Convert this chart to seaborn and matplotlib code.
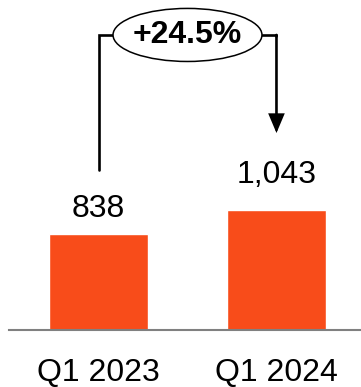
import matplotlib
matplotlib.use("Agg")
import matplotlib.pyplot as plt
import seaborn as sns
import pandas as pd
from matplotlib.patches import Ellipse

# Quarterly values
quarters = ["Q1 2023", "Q1 2024"]
values = [838, 1043]
value_labels = ["838", "1,043"]
growth_label = "+24.5%"

sns.set_theme(style="white")
plt.rcParams["font.family"] = ["Liberation Sans", "DejaVu Sans"]

fig = plt.figure(figsize=(3.61, 3.87), dpi=100)
ax = fig.add_axes([9 / 361, 57 / 387, 352 / 361, 330 / 387])

df = pd.DataFrame({"quarter": quarters, "value": values})
sns.barplot(data=df, x="quarter", y="value", color="#F84C1A",
            saturation=1, width=0.556, ax=ax)

ax.set_xlim(-0.503, 1.475)
ax.set_ylim(0, 2880)

for side in ("top", "left", "right"):
    ax.spines[side].set_visible(False)
ax.spines["bottom"].set_color("#808080")
ax.spines["bottom"].set_linewidth(1.5)
ax.set_yticks([])
ax.set_xlabel("")
ax.set_ylabel("")
ax.tick_params(axis="x", length=0, pad=20, labelsize=23, colors="black")

# value labels above each bar
label_offsets = [12.5, 20]
for i, (v, lab) in enumerate(zip(values, value_labels)):
    ax.annotate(lab, (i, v), xytext=(0, label_offsets[i]),
                textcoords="offset points", ha="center", va="baseline",
                fontsize=23, color="black")

# growth bracket with arrow
bracket_top = 2575
left_start = values[0] + 558
arrow_end = values[1] + 676
ell_w, ell_h = 0.837, 463

ax.plot([0, 0, 0.5 - ell_w / 2], [left_start, bracket_top, bracket_top],
        color="black", lw=1.9, solid_joinstyle="miter", clip_on=False)
ax.plot([0.5 + ell_w / 2, 1], [bracket_top, bracket_top],
        color="black", lw=1.9, clip_on=False)
ax.annotate("", xy=(1, arrow_end), xytext=(1, bracket_top),
            arrowprops=dict(arrowstyle="-|>,head_length=0.9,head_width=0.38",
                            color="black", lw=1.9, shrinkA=0, shrinkB=0,
                            joinstyle="miter"),
            annotation_clip=False)
ax.plot([1, 1], [bracket_top - 10, bracket_top], color="black", lw=1.9)

ax.add_patch(Ellipse((0.5, bracket_top), ell_w, ell_h, facecolor="white",
                     edgecolor="black", lw=1.1, clip_on=False, zorder=5))
ax.text(0.5, bracket_top, growth_label, ha="center", va="center",
        fontsize=23, fontweight="bold", color="black", zorder=6)

fig.savefig("out.png", dpi=100)
